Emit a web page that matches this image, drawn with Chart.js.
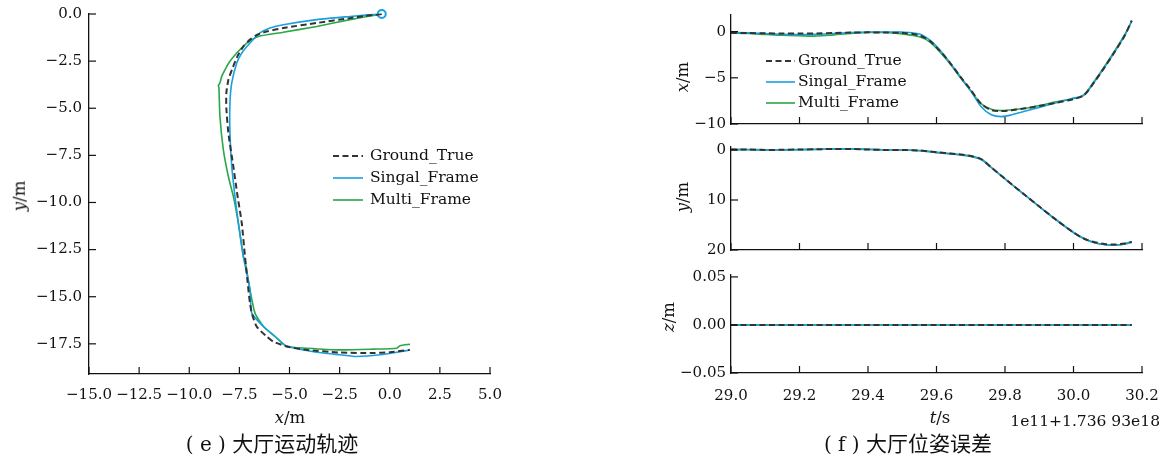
<!DOCTYPE html>
<html><head><meta charset="utf-8">
<script src="https://cdn.jsdelivr.net/npm/chart.js@4.4.1/dist/chart.umd.min.js"></script>
<style>
html,body{margin:0;padding:0;background:#fff;}
#wrap{position:relative;width:1166px;height:461px;overflow:hidden;background:#fff;}
canvas{position:absolute;left:0;top:0;}
.lbl{position:absolute;font-family:'DejaVu Serif',serif;font-size:16.5px;color:#111;white-space:nowrap;transform:translate(-50%,-50%);line-height:1;}
.rot{transform:translate(-50%,-50%) rotate(-90deg);}
.cap{font-family:'DejaVu Serif','Noto Sans CJK SC',serif;font-size:20px;}
.cap span{font-family:'Noto Sans CJK SC',sans-serif;font-size:21px;}
.off{transform:translate(-100%,-50%);font-size:15.5px;}
</style></head>
<body><div id="wrap">
<canvas id="cTraj" width="1166" height="461"></canvas>
<canvas id="cX" width="1166" height="461"></canvas>
<canvas id="cY" width="1166" height="461"></canvas>
<canvas id="cZ" width="1166" height="461"></canvas>
<div class="lbl rot" style="left:20px;top:196px;"><i>y</i>/m</div>
<div class="lbl" style="left:290px;top:418px;"><i>x</i>/m</div>
<div class="lbl cap" style="left:272px;top:443px;">( e ) <span>大厅运动轨迹</span></div>
<div class="lbl rot" style="left:683px;top:77px;"><i>x</i>/m</div>
<div class="lbl rot" style="left:683px;top:197px;"><i>y</i>/m</div>
<div class="lbl rot" style="left:669px;top:317px;"><i>z</i>/m</div>
<div class="lbl" style="left:940px;top:418px;"><i>t</i>/s</div>
<div class="lbl off" style="left:1160px;top:422px;">1e11+1.736 93e18</div>
<div class="lbl cap" style="left:908px;top:443px;">( f ) <span>大厅位姿误差</span></div>
</div>
<script>
// ---------- data ----------
const seriesLabels = ['Ground_True', 'Singal_Frame', 'Multi_Frame'];

// (e) trajectory
const trajXTicks = [-15, -12.5, -10, -7.5, -5, -2.5, 0, 2.5, 5];
const trajYTicks = [0, -2.5, -5, -7.5, -10, -12.5, -15, -17.5];
const gtX = [-0.4, -1.2, -2.0, -3.6, -5.3, -6.1, -6.6, -6.97, -7.3, -7.6, -7.85, -8.05, -8.15, -8.15, -8.05, -7.8, -7.6, -7.38, -7.22, -7.05, -6.97, -6.88, -6.64, -6.14, -5.81, -5.14, -4.14, -2.48, -0.82, 0.01, 1.0];
const gtY = [0, -0.1, -0.22, -0.47, -0.74, -0.92, -1.1, -1.36, -1.72, -2.25, -2.9, -3.5, -4.2, -5.0, -6.3, -8.1, -9.6, -11.1, -12.87, -14.63, -15.36, -15.87, -16.58, -17.11, -17.38, -17.64, -17.82, -17.96, -17.99, -17.94, -17.82];
const sfX = [-0.4, -1.2, -1.98, -3.64, -5.31, -5.97, -6.47, -6.97, -7.38, -7.63, -7.88, -7.97, -7.97, -7.88, -7.72, -7.55, -7.3, -6.97, -6.88, -6.3, -5.72, -5.14, -4.14, -3.32, -2.48, -1.65, -0.49, 0.85, 1.0];
const sfY = [0, -0.06, -0.13, -0.3, -0.57, -0.74, -1.0, -1.54, -2.07, -2.6, -3.66, -4.72, -6.32, -8.09, -9.68, -11.1, -12.87, -14.63, -15.87, -16.58, -17.11, -17.62, -17.85, -17.99, -18.08, -18.17, -18.08, -17.86, -17.83];
const mfX = [-0.4, -1.2, -1.98, -3.64, -5.31, -6.55, -7.13, -7.63, -7.97, -8.22, -8.38, -8.47, -8.55, -8.52, -8.47, -8.3, -8.05, -7.8, -7.55, -7.3, -7.2, -6.97, -6.72, -6.3, -5.72, -5.14, -4.14, -2.48, -0.82, 0.35, 0.51, 1.01];
const mfY = [0, -0.15, -0.3, -0.66, -0.97, -1.19, -1.54, -2.07, -2.51, -2.96, -3.31, -3.66, -3.8, -3.9, -5.43, -7.2, -8.62, -9.68, -11.1, -12.87, -13.2, -14.63, -15.87, -16.58, -17.11, -17.64, -17.73, -17.82, -17.78, -17.73, -17.6, -17.52];

// (f) pose error vs time
const timeTicks = [29.0, 29.2, 29.4, 29.6, 29.8, 30.0, 30.2];
const tSec = [29.0, 29.05, 29.1, 29.15, 29.2, 29.25, 29.3, 29.35, 29.4, 29.45, 29.5, 29.55, 29.58, 29.61, 29.64, 29.67, 29.7, 29.73, 29.76, 29.79, 29.82, 29.86, 29.9, 29.95, 30.0, 30.03, 30.06, 30.09, 30.12, 30.15, 30.17];
const xErrTicks = [0, -5, -10];
const xGT = [-0.15, -0.15, -0.18, -0.2, -0.2, -0.2, -0.15, -0.1, -0.08, -0.1, -0.15, -0.4, -1.0, -2.1, -3.4, -4.9, -6.3, -7.8, -8.5, -8.6, -8.5, -8.3, -8.05, -7.7, -7.3, -6.9, -5.5, -3.9, -2.2, -0.4, 1.2];
const xSF = [-0.1, -0.12, -0.2, -0.3, -0.32, -0.3, -0.2, -0.1, -0.05, -0.05, -0.05, -0.25, -0.9, -2.0, -3.4, -4.9, -6.4, -8.1, -9.0, -9.2, -9.0, -8.6, -8.2, -7.7, -7.2, -6.9, -5.5, -3.9, -2.2, -0.4, 1.2];
const xMF = [-0.15, -0.2, -0.3, -0.4, -0.45, -0.48, -0.35, -0.2, -0.1, -0.1, -0.25, -0.55, -1.1, -2.2, -3.5, -5.0, -6.4, -7.8, -8.4, -8.55, -8.45, -8.3, -8.0, -7.6, -7.25, -6.85, -5.4, -3.8, -2.1, -0.3, 1.1];
const yErrTicks = [0, 10, 20];
const yGT = [-0.1, -0.1, 0, -0.05, -0.1, -0.15, -0.2, -0.2, -0.1, 0, 0, 0.1, 0.3, 0.5, 0.7, 0.9, 1.2, 1.8, 3.5, 5.2, 6.9, 9.1, 11.3, 14.0, 16.5, 17.7, 18.4, 18.8, 18.9, 18.7, 18.4];
const ySF = [-0.1, -0.05, 0, 0, -0.05, -0.1, -0.2, -0.2, -0.1, 0, 0, 0.15, 0.35, 0.6, 0.8, 1.0, 1.3, 1.9, 3.5, 5.2, 6.9, 9.1, 11.3, 14.0, 16.5, 17.7, 18.5, 18.9, 19.0, 18.8, 18.4];
const yMF = [-0.1, -0.1, -0.05, -0.05, -0.1, -0.15, -0.2, -0.25, -0.15, -0.05, 0, 0.1, 0.3, 0.5, 0.7, 0.9, 1.2, 1.8, 3.5, 5.2, 6.9, 9.1, 11.3, 14.0, 16.5, 17.7, 18.5, 18.9, 19.0, 18.8, 18.3];
const zTime = [29.0, 29.3, 29.6, 29.9, 30.17];
const zErrTicks = [0.05, 0, -0.05];
const zGT = [0, 0, 0, 0, 0];
const zSF = [0, 0, 0, 0, 0];
const zMF = [0, 0, 0, 0, 0];

// ---------- styling / helpers ----------
const INK = '#111';
const styles = [
  { borderColor: '#333333', borderWidth: 2, borderDash: [6, 3.5] },
  { borderColor: '#1a9fdf', borderWidth: 1.6, borderDash: [] },
  { borderColor: '#2aa748', borderWidth: 1.6, borderDash: [] }
];
const pts = (xs, ys) => xs.map((v, i) => ({ x: v, y: ys[i] }));
const minus = s => s.replace('-', '\u2212');

const inwardTicks = {
  id: 'inwardTicks',
  afterDatasetsDraw(chart, args, o) {
    const ctx = chart.ctx;
    ctx.save();
    ctx.strokeStyle = o.color; ctx.lineWidth = o.width; ctx.setLineDash([]);
    ['x', 'y'].forEach(id => {
      const s = chart.scales[id];
      s.ticks.forEach(t => {
        const p = s.getPixelForValue(t.value);
        ctx.beginPath();
        if (s.isHorizontal()) { ctx.moveTo(p, s.top); ctx.lineTo(p, s.top - o.len); }
        else { ctx.moveTo(s.right, p); ctx.lineTo(s.right + o.len, p); }
        ctx.stroke();
      });
    });
    ctx.restore();
  }
};

const lineLegend = {
  id: 'lineLegend',
  afterDraw(chart, args, o) {
    if (!o.show) return;
    const ctx = chart.ctx;
    ctx.save();
    ctx.font = o.font; ctx.textBaseline = 'middle'; ctx.fillStyle = INK;
    chart.data.datasets.forEach((ds, i) => {
      const y = o.y + i * o.rowH;
      ctx.strokeStyle = ds.borderColor; ctx.lineWidth = ds.borderWidth;
      ctx.setLineDash(ds.borderDash || []);
      ctx.beginPath(); ctx.moveTo(o.x, y); ctx.lineTo(o.x + o.len, y); ctx.stroke();
      ctx.setLineDash([]);
      ctx.fillText(ds.label, o.x + o.len + o.gap, y);
    });
    ctx.restore();
  }
};

function makeDatasets(series, tension, extra) {
  return series.map((d, i) => Object.assign({
    label: seriesLabels[i], data: d, showLine: true, pointRadius: 0, fill: false, tension: tension
  }, styles[i], (extra && extra[i]) || {}));
}

function makeChart(id, area, datasets, xs, ys, legend) {
  const W = 70, H = 40;
  return new Chart(document.getElementById(id), {
    type: 'scatter',
    data: { datasets },
    plugins: [inwardTicks, lineLegend],
    options: {
      responsive: false, animation: false, devicePixelRatio: 1,
      layout: { padding: { left: area.l - W, top: area.t, right: 1166 - area.r, bottom: 461 - area.b - H } },
      plugins: {
        legend: { display: false }, tooltip: { enabled: false },
        inwardTicks: { len: 7, color: INK, width: 1.2 },
        lineLegend: legend || { show: false }
      },
      scales: {
        x: {
          type: 'linear', min: xs.min, max: xs.max,
          afterBuildTicks: s => { s.ticks = xs.ticks.map(v => ({ value: v })); },
          afterFit: s => { s.height = H; s.paddingLeft = 0; s.paddingRight = 0; },
          grid: { display: false, drawTicks: false },
          border: { display: true, color: INK, width: 1.3 },
          ticks: { display: xs.labels, padding: xs.pad, autoSkip: false, maxRotation: 0,
                   font: { family: 'DejaVu Serif', size: xs.fs }, color: INK, callback: xs.fmt }
        },
        y: {
          type: 'linear', min: ys.min, max: ys.max, reverse: !!ys.reverse,
          afterBuildTicks: s => { s.ticks = ys.ticks.map(v => ({ value: v })); },
          afterFit: s => { s.width = W; s.paddingTop = 0; s.paddingBottom = 0; },
          grid: { display: false, drawTicks: false },
          border: { display: true, color: INK, width: 1.3 },
          ticks: { padding: ys.pad, autoSkip: false,
                   font: { family: 'DejaVu Serif', size: ys.fs }, color: INK, callback: ys.fmt }
        }
      }
    }
  });
}

const fmt1 = v => minus(Number(v).toFixed(1));
const fmt0 = v => minus(Number(v).toFixed(0));
const fmt2 = v => minus(Number(v).toFixed(2));
const legendFont = '15.5px "DejaVu Serif"';

// (e) trajectory
makeChart('cTraj', { l: 89, r: 490, t: 14, b: 374 },
  makeDatasets([pts(gtX, gtY), pts(sfX, sfY), pts(mfX, mfY)], 0.2, [
    {}, { clip: 10, pointRadius: c => c.dataIndex === 0 ? 4 : 0, pointBorderWidth: 2,
          pointBorderColor: '#1a9fdf', pointBackgroundColor: 'rgba(255,255,255,0)' }, {}]),
  { min: -15, max: 5, ticks: trajXTicks, labels: true, pad: 12, fs: 15, fmt: fmt1 },
  { min: -19.1, max: 0, ticks: trajYTicks, pad: 7, fs: 15, fmt: fmt1 },
  { show: true, x: 333, y: 156, rowH: 22, len: 30, gap: 7, font: legendFont });

// (f) x error
makeChart('cX', { l: 731, r: 1142, t: 15, b: 124 },
  makeDatasets([pts(tSec, xGT), pts(tSec, xSF), pts(tSec, xMF)], 0.3),
  { min: 29.0, max: 30.2, ticks: timeTicks, labels: false, pad: 15, fs: 15, fmt: fmt1 },
  { min: -10, max: 1.8, ticks: xErrTicks, pad: 5, fs: 15, fmt: fmt0 },
  { show: true, x: 766, y: 61, rowH: 21, len: 29, gap: 3, font: legendFont });

// (f) y error
makeChart('cY', { l: 731, r: 1142, t: 147, b: 250 },
  makeDatasets([pts(tSec, yGT), pts(tSec, ySF), pts(tSec, yMF)], 0.3),
  { min: 29.0, max: 30.2, ticks: timeTicks, labels: false, pad: 15, fs: 15, fmt: fmt1 },
  { min: -0.6, max: 20, reverse: true, ticks: yErrTicks, pad: 5, fs: 15, fmt: fmt0 });

// (f) z error
makeChart('cZ', { l: 731, r: 1142, t: 275, b: 373 },
  makeDatasets([pts(zTime, zGT), pts(zTime, zSF), pts(zTime, zMF)], 0),
  { min: 29.0, max: 30.2, ticks: timeTicks, labels: true, pad: 14, fs: 15, fmt: fmt1 },
  { min: -0.05, max: 0.052, ticks: zErrTicks, pad: 5, fs: 15, fmt: fmt2 });
</script>
</body></html>
